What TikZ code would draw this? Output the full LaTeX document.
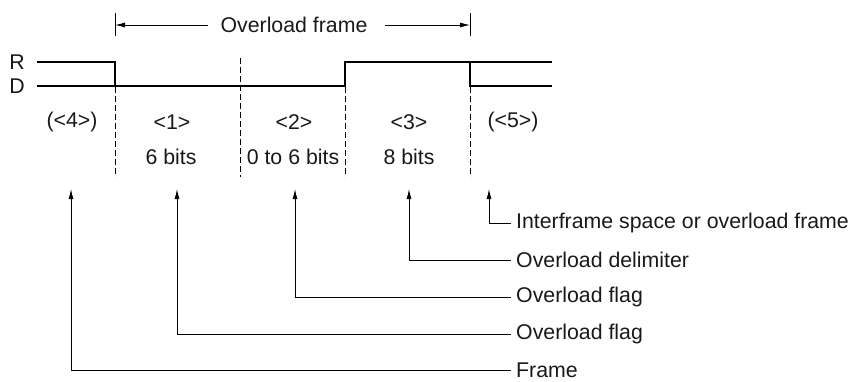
\documentclass[tikz,border=0pt]{standalone}
\usepackage{fontspec}
\setmainfont{Liberation Sans}
\usetikzlibrary{arrows.meta}
\begin{document}
\begin{tikzpicture}[x=1pt,y=-1pt,
  txt/.style={inner sep=0pt,font=\fontsize{21.3}{25}\selectfont,text=black!90},
  lbl/.style={txt,anchor=west,inner sep=5pt},
  sig/.style={line width=2.6pt,line join=miter},
  dsh/.style={line width=0.9pt,dash pattern=on 5.5pt off 3.5pt},
  arr/.style={line width=0.9pt,-{Latex[length=10pt,width=5pt]}},
  thin/.style={line width=0.9pt}]
\useasboundingbox (0,0) rectangle (852,381);
% top bracket
\coordinate (tL1) at (115,13); \coordinate (tL2) at (115,36);
\coordinate (tR1) at (470,13); \coordinate (tR2) at (470,36);
\coordinate (aL) at (115,25); \coordinate (aR) at (470,25);
\coordinate (oL) at (208,25); \coordinate (oR) at (385,25);
\draw[thin] (tL1) -- (tL2);
\draw[thin] (tR1) -- (tR2);
\node[txt] (ovl) at (294,25) {Overload frame};
\draw[arr] (oL) -- (aL);
\draw[arr] (oR) -- (aR);
% R/D
\node[txt] (R) at (17,62) {R};
\node[txt] (D) at (17,86) {D};
\coordinate (s0) at (37,62);
\coordinate (s1) at (115,62);
\coordinate (s2) at (115,86);
\coordinate (s3) at (345,86);
\coordinate (s4) at (345,62);
\coordinate (s5) at (470,62);
\coordinate (s6) at (470,86);
\coordinate (s7) at (552,86);
\coordinate (dR) at (37,86); \coordinate (dRe) at (115,86);
\coordinate (rE) at (552,62);
\draw[sig] (s0) -- (s1) -- (s2) -- (s3) -- (s4) -- (s5) -- (s6) -- (s7);
\draw[sig] (dR) -- (dRe);
\draw[sig] (s5) -- (rE);
% dashed separators
\coordinate (d1a) at (115,87); \coordinate (d1b) at (115,177);
\coordinate (d2a) at (240,58); \coordinate (d2b) at (240,177);
\coordinate (d3a) at (345,87); \coordinate (d3b) at (345,177);
\coordinate (d4a) at (470,87); \coordinate (d4b) at (470,177);
\draw[dsh] (d1a) -- (d1b);
\draw[dsh] (d2a) -- (d2b);
\draw[dsh] (d3a) -- (d3b);
\draw[dsh] (d4a) -- (d4b);
% field labels
\node[txt] (f4) at (72,122) {(<4>)};
\node[txt] (f1) at (172,122) {<1>};
\node[txt] (f2) at (294,122) {<2>};
\node[txt] (f3) at (409,122) {<3>};
\node[txt] (f5) at (513,122) {(<5>)};
\node[txt] (b1) at (171,157) {6 bits};
\node[txt] (b2) at (293,157) {0 to 6 bits};
\node[txt] (b3) at (409,157) {8 bits};
% pointer arrows
\coordinate (p4) at (71,189);
\coordinate (p1) at (177,189);
\coordinate (p2) at (295,189);
\coordinate (p3) at (409,189);
\coordinate (p5) at (489,189);
\node[lbl] (l5) at (511,223) {Interframe space or overload frame};
\node[lbl] (l3) at (511,260) {Overload delimiter};
\node[lbl] (l2) at (511,297) {Overload flag};
\node[lbl] (l1) at (511,334) {Overload flag};
\node[lbl] (l4) at (511,370) {Frame};
\draw[arr] (l5.west) -| (p5);
\draw[arr] (l3.west) -| (p3);
\draw[arr] (l2.west) -| (p2);
\draw[arr] (l1.west) -| (p1);
\draw[arr] (l4.west) -| (p4);
\end{tikzpicture}
\end{document}
